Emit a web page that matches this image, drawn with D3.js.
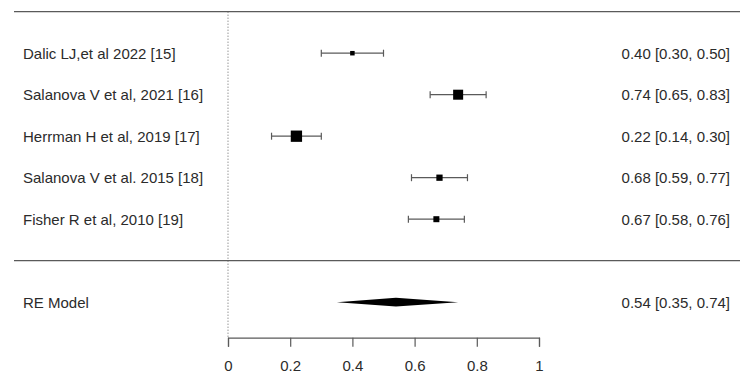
<!DOCTYPE html>
<html><head><meta charset="utf-8">
<script src="https://cdn.jsdelivr.net/npm/d3@7"></script>
<style>
html,body{margin:0;padding:0;background:#fff;}
svg{display:block;}
text{font-family:"Liberation Sans",Arial,sans-serif;font-size:15px;fill:#2b2b2b;}
</style></head>
<body>
<svg id="chart" width="750" height="384"></svg>
<script>
const studies = ["Dalic LJ,et al 2022 [15]", "Salanova V et al, 2021 [16]", "Herrman H et al, 2019 [17]", "Salanova V et al. 2015 [18]", "Fisher R et al, 2010 [19]"];
const estimates = [0.40, 0.74, 0.22, 0.68, 0.67];
const lower = [0.30, 0.65, 0.14, 0.59, 0.58];
const upper = [0.50, 0.83, 0.30, 0.77, 0.76];
const weights = [14.5, 22.6, 24.5, 17.1, 16.7];
const modelLabel = "RE Model";
const modelEst = 0.54, modelLow = 0.35, modelHigh = 0.74;
const xTicks = [0, 0.2, 0.4, 0.6, 0.8, 1];

const svg = d3.select("#chart");
const x = d3.scaleLinear().domain([0, 1]).range([228, 539]);
// row positions: -1 = top rule, 0..4 studies, 5 = separator, 6 = model
const y = d3.scaleLinear().domain([0, 6]).range([53.2, 302.2]);
const size = d3.scaleLinear().domain([d3.min(weights), d3.max(weights)]).range([4.5, 11.3]);
const fmt = d3.format(".2f");
const lineCol = "#5a5a5a";

// rules
svg.append("line").attr("x1", 14).attr("x2", 740).attr("y1", y(-1)).attr("y2", y(-1))
  .attr("stroke", lineCol).attr("stroke-width", 1.2);
svg.append("line").attr("x1", 14).attr("x2", 740).attr("y1", y(5)).attr("y2", y(5))
  .attr("stroke", lineCol).attr("stroke-width", 1.2);

// reference dotted line
const axisY = 337.7;
svg.append("line").attr("x1", x(0)).attr("x2", x(0)).attr("y1", y(-1)).attr("y2", axisY)
  .attr("stroke", "#666").attr("stroke-width", 1).attr("stroke-dasharray", "1,2");

// study rows
const rows = svg.selectAll("g.row").data(studies).join("g").attr("class", "row");
rows.append("text").attr("x", 23).attr("y", (d, i) => y(i)).attr("dy", "0.36em").text(d => d);
rows.append("line").attr("x1", (d, i) => x(lower[i])).attr("x2", (d, i) => x(upper[i]))
  .attr("y1", (d, i) => y(i)).attr("y2", (d, i) => y(i)).attr("stroke", lineCol).attr("stroke-width", 1.2);
rows.append("line").attr("x1", (d, i) => x(lower[i])).attr("x2", (d, i) => x(lower[i]))
  .attr("y1", (d, i) => y(i) - 3.5).attr("y2", (d, i) => y(i) + 3.5).attr("stroke", lineCol).attr("stroke-width", 1.2);
rows.append("line").attr("x1", (d, i) => x(upper[i])).attr("x2", (d, i) => x(upper[i]))
  .attr("y1", (d, i) => y(i) - 3.5).attr("y2", (d, i) => y(i) + 3.5).attr("stroke", lineCol).attr("stroke-width", 1.2);
rows.append("rect")
  .attr("x", (d, i) => x(estimates[i]) - size(weights[i]) / 2)
  .attr("y", (d, i) => y(i) - size(weights[i]) / 2)
  .attr("width", (d, i) => size(weights[i])).attr("height", (d, i) => size(weights[i]))
  .attr("fill", "#000");
rows.append("text").attr("x", 730).attr("y", (d, i) => y(i)).attr("dy", "0.36em")
  .attr("text-anchor", "end")
  .text((d, i) => `${fmt(estimates[i])} [${fmt(lower[i])}, ${fmt(upper[i])}]`);

// model
const my = y(6);
svg.append("text").attr("x", 23).attr("y", my).attr("dy", "0.36em").text(modelLabel);
svg.append("polygon")
  .attr("points", [[x(modelLow), my], [x(modelEst), my - 4.4], [x(modelHigh), my], [x(modelEst), my + 4.4]].map(p => p.join(",")).join(" "))
  .attr("fill", "#000");
svg.append("text").attr("x", 730).attr("y", my).attr("dy", "0.36em").attr("text-anchor", "end")
  .text(`${fmt(modelEst)} [${fmt(modelLow)}, ${fmt(modelHigh)}]`);

// axis
const axis = d3.axisBottom(x).tickValues(xTicks).tickSize(9).tickPadding(14).tickFormat(d3.format("~g"));
const ag = svg.append("g").attr("transform", `translate(0,${axisY})`).call(axis);
ag.select(".domain").attr("stroke", lineCol).attr("stroke-width", 1.2);
ag.selectAll(".tick line").attr("stroke", lineCol).attr("stroke-width", 1.2);
ag.selectAll(".tick text").attr("fill", "#2b2b2b").style("font-size", "15px")
  .style("font-family", '"Liberation Sans",Arial,sans-serif');
</script>
</body></html>
